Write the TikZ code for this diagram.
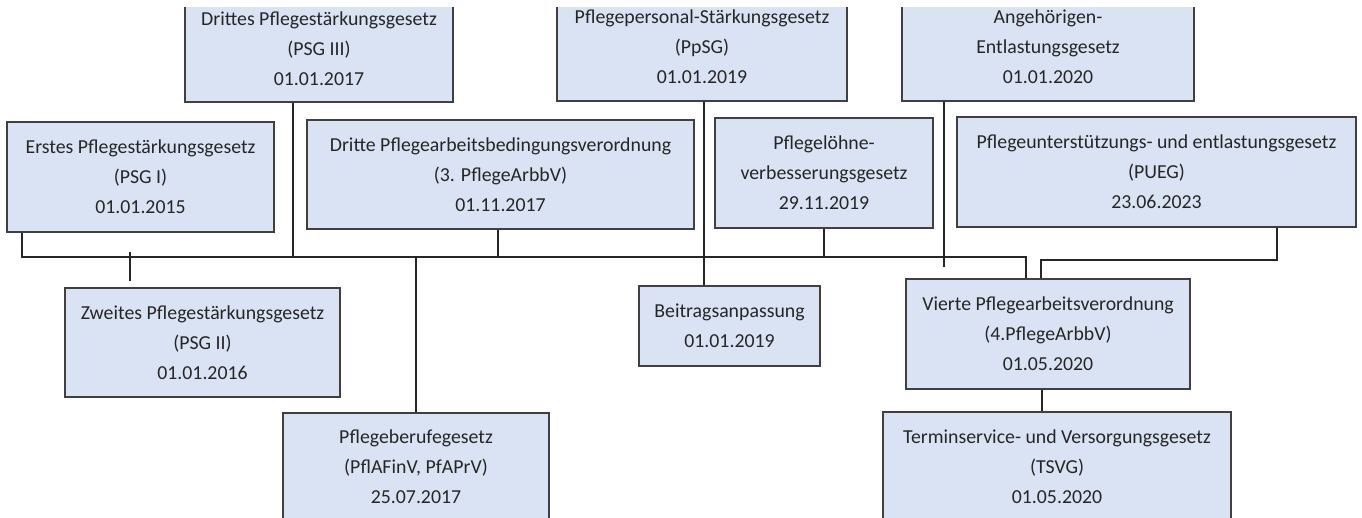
\documentclass[tikz,border=0pt]{standalone}
\usepackage{fontspec}
\setmainfont{Carlito}
\definecolor{boxfill}{RGB}{218,227,243}
\definecolor{boxline}{RGB}{64,64,64}
\definecolor{txt}{RGB}{38,38,38}
\newcommand\bx[6]{\node[box, minimum width={#4-#2}, minimum height={#5-#3}] (#1) at ({(#2+#4)/2},{(#3+#5)/2}) {#6};}
\begin{document}
\begin{tikzpicture}[x=1pt,y=-1pt,
  box/.style={draw=boxline, fill=boxfill, line width=1.7pt, align=center, inner sep=0pt, text=txt, font=\fontsize{19.8}{30}\selectfont},
  conn/.style={draw=black!85, line width=1.6pt}]
\useasboundingbox (0,0) rectangle (1362,518);
\clip (0,8) rectangle (1362,518);
\bx{psg3}{185}{-4}{453}{102}{Drittes Pflegestärkungsgesetz\\(PSG III)\\01.01.2017}
\bx{ppsg}{557}{-7}{847}{101}{Pflegepersonal-Stärkungsgesetz\\(PpSG)\\01.01.2019}
\bx{angeh}{902}{-7}{1194}{101}{Angehörigen-\\Entlastungsgesetz\\01.01.2020}
\bx{psg1}{7}{122}{274}{232}{Erstes Pflegestärkungsgesetz\\(PSG I)\\01.01.2015}
\bx{pfarb}{307}{120}{694}{229}{Dritte Pflegearbeitsbedingungsverordnung\\(3. PflegeArbbV)\\01.11.2017}
\bx{loehne}{715}{118}{933}{228}{Pflegelöhne-\\verbesserungsgesetz\\29.11.2019}
\bx{pueg}{957}{117}{1356}{227}{Pflegeunterstützungs- und entlastungsgesetz\\(PUEG)\\23.06.2023}
\bx{psg2}{65}{288}{340}{397}{Zweites Pflegestärkungsgesetz\\(PSG II)\\01.01.2016}
\bx{beitrag}{639}{286}{820}{366}{Beitragsanpassung\\01.01.2019}
\bx{vierte}{906}{279}{1190}{389}{Vierte Pflegearbeitsverordnung\\(4.PflegeArbbV)\\01.05.2020}
\bx{pfberuf}{283}{413}{549}{521}{Pflegeberufegesetz\\(PflAFinV, PfAPrV)\\25.07.2017}
\bx{tsvg}{883}{412}{1231}{522}{Terminservice- und Versorgungsgesetz\\(TSVG)\\01.05.2020}
% bus coordinates
\coordinate (bL1) at (22,257);
\coordinate (bL2) at (1026,257);
\coordinate (bR1) at (1041,260);
\coordinate (bR2) at (1277,260);
\coordinate (c3) at (293,257);
\coordinate (c2a) at (130,252);
\coordinate (c2b) at (130,281);
\coordinate (cpa) at (498,257);
\coordinate (cpb) at (416,257);
\coordinate (cpp) at (704,0);
\coordinate (clo) at (824,257);
\coordinate (can) at (944,267);
\coordinate (cvt) at (1042,0);
\draw[conn] (psg1.south -| bL1) -- (bL1) -- (bL2) -- (vierte.north -| bL2);
\draw[conn] (pueg.south -| bR2) -- (bR2) -- (bR1) -- (vierte.north -| bR1);
\draw[conn] (psg3.south -| c3) -- (c3);
\draw[conn] (c2a) -- (c2b);
\draw[conn] (pfarb.south -| cpa) -- (cpa);
\draw[conn] (cpb) -- (pfberuf.north -| cpb);
\draw[conn] (ppsg.south -| cpp) -- (beitrag.north -| cpp);
\draw[conn] (loehne.south -| clo) -- (clo);
\draw[conn] (angeh.south -| can) -- (can);
\draw[conn] (vierte.south -| cvt) -- (tsvg.north -| cvt);
\end{tikzpicture}
\end{document}
